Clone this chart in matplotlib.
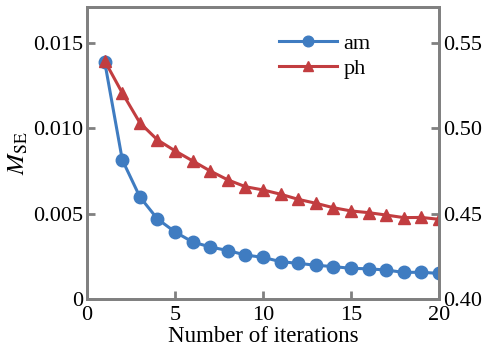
import matplotlib
matplotlib.use("Agg")
import matplotlib.pyplot as plt

iterations = list(range(1, 21))
am_mse = [0.01389, 0.00815, 0.00598, 0.00469, 0.00393, 0.00334, 0.00305, 0.00284,
          0.00258, 0.00244, 0.00219, 0.00209, 0.00198, 0.00190, 0.00180, 0.00177,
          0.00170, 0.00156, 0.00157, 0.00150]
ph_mse = [0.5395, 0.5207, 0.5032, 0.4932, 0.4868, 0.4809, 0.4750, 0.4698,
          0.4658, 0.4639, 0.4614, 0.4584, 0.4561, 0.4535, 0.4516, 0.4506,
          0.4492, 0.4477, 0.4478, 0.4467]

plt.rcParams["font.family"] = "Liberation Serif"
plt.rcParams["mathtext.fontset"] = "stix"
plt.rcParams["font.size"] = 14

blue = "#3f7cc1"
red = "#c23d40"
grey = "#808080"

fig = plt.figure(figsize=(4.84, 3.56), dpi=100)
ax = fig.add_axes([0.180, 0.160, 0.727, 0.820])
ax2 = ax.twinx()

l1, = ax.plot(iterations, am_mse, color=blue, marker="o", markersize=9, lw=2.2, label="am")
l2, = ax2.plot(iterations, ph_mse, color=red, marker="^", markersize=9, lw=2.2, label="ph")

ax.set_xlim(0, 20)
ax.set_ylim(0, 0.0171)
ax2.set_ylim(0.40, 0.571)
ax.set_xticks([0, 5, 10, 15, 20])
ax.set_yticks([0, 0.005, 0.010, 0.015])
ax.set_yticklabels(["0", "0.005", "0.010", "0.015"])
ax2.set_yticks([0.40, 0.45, 0.50, 0.55])
ax2.set_yticklabels(["0.40", "0.45", "0.50", "0.55"])

for a in (ax, ax2):
    for s in a.spines.values():
        s.set_color(grey)
        s.set_linewidth(2)
    a.tick_params(direction="in", length=6, width=2, color=grey, pad=3, labelsize=16)
ax.tick_params(axis="x", pad=5)

ax.set_xlabel("Number of iterations", fontsize=16.5, labelpad=1)
ax.set_ylabel(r"$M_{\rm SE}$", fontsize=18, labelpad=2)

ax.legend(handles=[l1, l2], loc="upper left", bbox_to_anchor=(0.52, 0.94),
          frameon=False, handlelength=2.6, handletextpad=0.3, labelspacing=0.2,
          markerscale=0.85, borderaxespad=0, fontsize=16)

fig.savefig("out.png", dpi=100)
